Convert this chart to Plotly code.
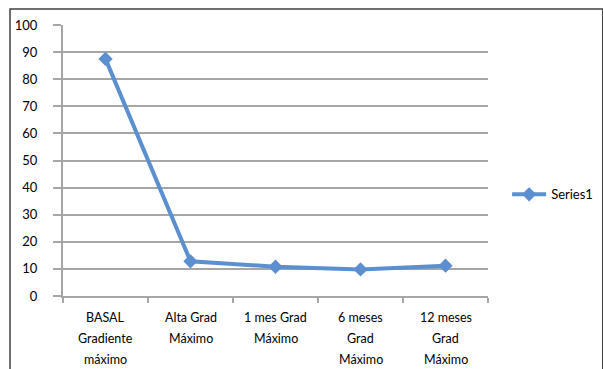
import plotly.graph_objects as go

category_lines = [
    ["BASAL", "Gradiente", "máximo"],
    ["Alta Grad", "Máximo"],
    ["1 mes Grad", "Máximo"],
    ["6 meses", "Grad", "Máximo"],
    ["12 meses", "Grad", "Máximo"],
]
categories = [" ".join(lines) for lines in category_lines]
series1 = [87.5, 12.8, 10.8, 9.8, 11.2]
y_ticks = [0, 10, 20, 30, 40, 50, 60, 70, 80, 90, 100]

line_color = "#5B8FD0"
grid_color = "#A6A6A6"
font_family = "Lato, 'Open Sans', sans-serif"

fig = go.Figure()
fig.add_trace(go.Scatter(
    x=categories,
    y=series1,
    mode="lines+markers",
    name="Series1",
    line=dict(color=line_color, width=4),
    marker=dict(symbol="diamond", size=11, color=line_color),
))

# Category labels, one annotation per text line for wider line spacing
annotations = []
for cat, lines in zip(categories, category_lines):
    for i, txt in enumerate(lines):
        annotations.append(dict(
            x=cat, xref="x", y=-0.081 - 0.0775 * i, yref="paper",
            text=txt, showarrow=False, xanchor="center", yanchor="middle",
            font=dict(size=12.5, color="#000000"),
        ))

fig.update_layout(
    width=603,
    height=369,
    margin=dict(l=63, r=115, t=25, b=73, autoexpand=False),
    paper_bgcolor="white",
    plot_bgcolor="white",
    font=dict(family=font_family, size=12, color="#000000"),
    showlegend=True,
    legend=dict(
        x=1.045, y=0.375, xanchor="left", yanchor="middle",
        font=dict(size=13, color="#000000"),
        bgcolor="rgba(0,0,0,0)",
        itemwidth=34,
    ),
    xaxis=dict(
        type="category",
        range=[-0.5, 4.5],
        showgrid=False,
        showline=True,
        linecolor=grid_color,
        linewidth=2,
        ticks="outside",
        tickson="boundaries",
        ticklen=5,
        tickcolor=grid_color,
        tickwidth=2,
        showticklabels=False,
        zeroline=False,
    ),
    yaxis=dict(
        range=[0, 100],
        tickvals=y_ticks,
        showgrid=True,
        gridcolor=grid_color,
        gridwidth=2,
        showline=True,
        linecolor=grid_color,
        linewidth=2,
        ticks="outside",
        ticklen=8,
        tickcolor=grid_color,
        tickwidth=2,
        ticklabelstandoff=13,
        tickfont=dict(size=13),
        zeroline=False,
    ),
    annotations=annotations,
    shapes=[
        dict(
            type="rect", xref="paper", yref="paper",
            x0=-0.1247, x1=1.27, y0=-0.3, y1=1.059,
            line=dict(color="#404040", width=1.5),
            fillcolor="rgba(0,0,0,0)",
            layer="below",
        )
    ],
)

fig.write_html("out.html")
